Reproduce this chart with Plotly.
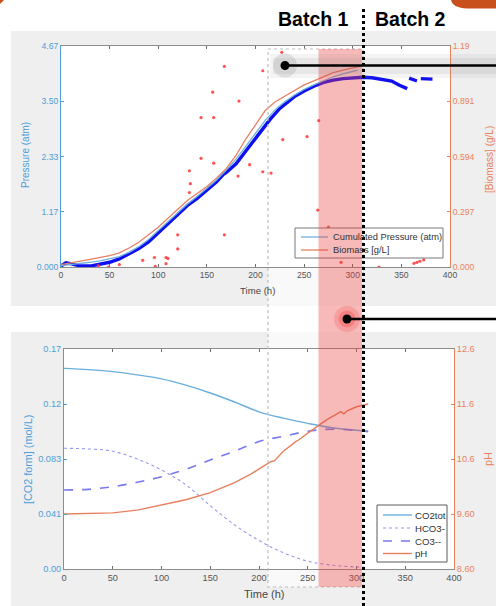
import plotly.graph_objects as go

W, H = 496, 606
FONT = "Liberation Sans, Arial, sans-serif"

# ---------------- top panel data ----------------
press_h = [0, 5, 10, 20, 30, 40, 50, 60, 70, 80, 90, 100, 110, 120, 130, 140, 150, 160, 167, 170, 180, 190,
           200, 210, 215, 225, 240, 250, 260, 270, 280, 290, 300, 310, 320, 330, 340, 348, 356, 357,
           358, 362, 366, 368, 370, 376, 382]
press_atm = [0.02, 0.09, 0.07, 0.02, 0.02, 0.06, 0.10, 0.17, 0.27, 0.39, 0.53, 0.72, 0.90, 1.10, 1.30, 1.45,
             1.63, 1.80, 1.96, 2.00, 2.18, 2.45, 2.72, 2.98, 3.12, 3.35, 3.60, 3.72, 3.82, 3.90, 3.95, 3.98,
             4.00, 4.01, 4.00, 3.97, 3.93, 3.84, 3.77, None, 3.99, 3.96, 3.93, None, 3.98, 3.98, 3.97]

cum_h = [0, 10, 20, 30, 40, 50, 60, 70, 80, 90, 100, 110, 120, 130, 140, 150, 160, 170, 180, 190, 200,
         210, 220, 230, 240, 250, 260, 270, 280, 290, 300, 305]
cum_atm = [0.03, 0.05, 0.07, 0.10, 0.13, 0.17, 0.22, 0.31, 0.43, 0.58, 0.77, 0.95, 1.15, 1.33, 1.49, 1.67,
           1.84, 2.05, 2.28, 2.55, 2.83, 3.10, 3.32, 3.49, 3.63, 3.75, 3.85, 3.94, 4.02, 4.08, 4.13, 4.16]

biomass_h = [0, 10, 20, 30, 40, 50, 60, 70, 80, 90, 100, 110, 120, 130, 140, 150, 160, 170, 180, 190, 200,
             210, 220, 230, 240, 250, 260, 270, 280, 290, 300, 308]
biomass_gL = [0.013, 0.020, 0.031, 0.041, 0.051, 0.061, 0.076, 0.102, 0.133, 0.173, 0.214, 0.262, 0.311,
              0.357, 0.395, 0.433, 0.479, 0.530, 0.600, 0.688, 0.764, 0.841, 0.887, 0.917, 0.951, 0.979,
              1.001, 1.024, 1.045, 1.058, 1.070, 1.080]

dots_h = [38.5, 48.7, 60, 84, 96, 97, 108, 110, 108, 120, 120, 132, 133, 132, 144, 144, 156, 157, 157, 168,
          168, 183, 182, 194, 227, 207.5, 207.5, 216, 228, 253, 265, 264, 275, 288, 327, 363, 366, 369, 373]
dots_gL = [0.008, 0.0, 0.013, 0.036, 0.051, 0.003, 0.051, 0.046, 0.018, 0.173, 0.097, 0.517, 0.448, 0.400,
           0.803, 0.584, 0.940, 0.803, 0.558, 1.078, 0.173, 0.892, 0.489, 0.550, 1.154, 1.055, 0.512, 0.505,
           0.685, 0.701, 0.787, 0.306, 0.214, 0.025, 0.0, 0.020, 0.025, 0.031, 0.038]

top_x_ticks = [0, 50, 100, 150, 200, 250, 300, 350, 400]
top_left_ticks = [0, 1.1675, 2.335, 3.5025, 4.67]
top_left_text = ["0.000", "1.17", "2.33", "3.50", "4.67"]
top_right_ticks = [0, 0.297, 0.594, 0.891, 1.188]
top_right_text = ["0.000", "0.297", "0.594", "0.891", "1.19"]

# ---------------- bottom panel data ----------------
t_h = [0, 25, 50, 75, 100, 125, 150, 175, 200, 225, 250, 275, 300, 312]
co2tot = [0.1514, 0.1504, 0.1489, 0.1465, 0.1435, 0.1387, 0.1328, 0.1260, 0.1186, 0.1138, 0.1099, 0.1066,
          0.1047, 0.1041]
hco3 = [0.0911, 0.0906, 0.0889, 0.0830, 0.0747, 0.0635, 0.0478, 0.0332, 0.0215, 0.0122, 0.0059, 0.0029,
        0.0015, 0.0012]
co3 = [0.0596, 0.0601, 0.0621, 0.0654, 0.0696, 0.0752, 0.0822, 0.0889, 0.0962, 0.1001, 0.1040, 0.1055,
       0.1045, 0.1036]
ph_h = [0, 25, 50, 75, 100, 125, 150, 175, 192, 200, 212, 216, 225, 238, 241, 250, 260, 270, 281, 284, 287,
        290, 300, 312]
ph = [9.60, 9.605, 9.62, 9.67, 9.76, 9.86, 9.99, 10.17, 10.33, 10.42, 10.55, 10.57, 10.74, 10.92, 10.95,
      11.07, 11.19, 11.32, 11.43, 11.46, 11.42, 11.47, 11.55, 11.60]

bot_left_ticks = [0, 0.0415, 0.083, 0.1245, 0.166]
bot_left_text = ["0.00", "0.041", "0.083", "0.12", "0.17"]
bot_right_ticks = [8.6, 9.6, 10.6, 11.6, 12.6]
bot_right_text = ["8.60", "9.60", "10.6", "11.6", "12.6"]

# colours
BLUE_AX = "rgb(77,158,218)"
ORANGE_AX = "rgb(232,130,92)"
GREY_TXT = "rgb(85,85,85)"
C_PRESS = "rgb(15,15,240)"
C_CUM = "rgb(110,178,222)"
C_BIO = "rgb(230,128,98)"
C_DOT = "rgba(255,50,50,0.85)"
C_CO2 = "rgb(105,175,222)"
C_HCO3 = "rgb(150,150,245)"
C_CO3 = "rgb(120,120,240)"
C_PH = "rgb(232,128,95)"


def fx(x):
    return x / W


def fy(y):
    return 1 - y / H


fig = go.Figure()

# top traces
fig.add_trace(go.Scatter(x=press_h, y=press_atm, mode="lines", line=dict(color=C_PRESS, width=3.4),
                         xaxis="x", yaxis="y", connectgaps=False, showlegend=False))
fig.add_trace(go.Scatter(x=cum_h, y=cum_atm, mode="lines", line=dict(color=C_CUM, width=1.3),
                         xaxis="x", yaxis="y", showlegend=False, name="Cumulated Pressure (atm)"))
fig.add_trace(go.Scatter(x=biomass_h, y=biomass_gL, mode="lines", line=dict(color=C_BIO, width=1.3),
                         xaxis="x", yaxis="y2", showlegend=False, name="Biomass [g/L]"))
fig.add_trace(go.Scatter(x=dots_h, y=dots_gL, mode="markers", marker=dict(color=C_DOT, size=3.2),
                         xaxis="x", yaxis="y2", showlegend=False))

# bottom traces
fig.add_trace(go.Scatter(x=t_h, y=co2tot, mode="lines", line=dict(color=C_CO2, width=1.4, shape="spline"),
                         xaxis="x2", yaxis="y3", showlegend=False, name="CO2tot"))
fig.add_trace(go.Scatter(x=t_h, y=hco3, mode="lines",
                         line=dict(color=C_HCO3, width=1.1, dash="dot", shape="spline"),
                         xaxis="x2", yaxis="y3", showlegend=False, name="HCO3-"))
fig.add_trace(go.Scatter(x=t_h, y=co3, mode="lines",
                         line=dict(color=C_CO3, width=1.6, dash="dash", shape="spline"),
                         xaxis="x2", yaxis="y3", showlegend=False, name="CO3--"))
fig.add_trace(go.Scatter(x=ph_h, y=ph, mode="lines", line=dict(color=C_PH, width=1.4),
                         xaxis="x2", yaxis="y4", showlegend=False, name="pH"))

tickfont_top = dict(family=FONT, size=8.6)
tickfont_bot = dict(family=FONT, size=9.2)


def xax(domain, anchor, tf):
    return dict(domain=domain, anchor=anchor, range=[0, 400], tickvals=top_x_ticks,
                ticks="inside", ticklen=3, tickcolor="rgb(110,110,110)", showline=True,
                linecolor="rgb(140,140,140)", linewidth=1, mirror="ticks", showgrid=False,
                zeroline=False, tickfont=dict(color=GREY_TXT, **tf), fixedrange=True, automargin=False)


def yax(domain, anchor, rng, tv, tt, color, tf, side="left", overlaying=None):
    d = dict(domain=domain, anchor=anchor, range=rng, tickvals=tv, ticktext=tt, ticks="inside",
             ticklen=3, tickcolor=color, showline=True, linecolor=color, linewidth=1, showgrid=False,
             zeroline=False, tickfont=dict(color=color, **tf), side=side, fixedrange=True,
             automargin=False)
    if overlaying:
        d["overlaying"] = overlaying
    return d


top_xdom = [fx(61), fx(450)]
top_ydom = [fy(267), fy(46)]
bot_xdom = [fx(64), fx(454)]
bot_ydom = [fy(569), fy(349)]

fig.update_layout(
    template="none",
    width=W, height=H, autosize=False,
    margin=dict(l=0, r=0, t=0, b=0, pad=0, autoexpand=False),
    paper_bgcolor="white", plot_bgcolor="rgba(0,0,0,0)",
    font=dict(family=FONT),
    xaxis=xax(top_xdom, "y", tickfont_top),
    yaxis=yax(top_ydom, "x", [0, 4.67], top_left_ticks, top_left_text, BLUE_AX, tickfont_top),
    yaxis2=yax(top_ydom, "x", [0, 1.188], top_right_ticks, top_right_text, ORANGE_AX, tickfont_top,
               side="right", overlaying="y"),
    xaxis2=xax(bot_xdom, "y3", tickfont_bot),
    yaxis3=yax(bot_ydom, "x2", [0, 0.166], bot_left_ticks, bot_left_text, BLUE_AX, tickfont_bot),
    yaxis4=yax(bot_ydom, "x2", [8.6, 12.6], bot_right_ticks, bot_right_text, ORANGE_AX, tickfont_bot,
               side="right", overlaying="y3"),
)


def rect(x0, y0, x1, y1, layer="below", **kw):
    return dict(type="rect", xref="paper", yref="paper", x0=fx(x0), x1=fx(x1), y0=fy(y0), y1=fy(y1),
                layer=layer, **kw)


def circ(cx, cy, r, layer="above", **kw):
    return dict(type="circle", xref="paper", yref="paper", x0=fx(cx - r), x1=fx(cx + r),
                y0=fy(cy + r), y1=fy(cy - r), layer=layer, **kw)


def seg(x0, y0, x1, y1, color, width, dash="solid", layer="above"):
    return dict(type="line", xref="paper", yref="paper", x0=fx(x0), x1=fx(x1), y0=fy(y0), y1=fy(y1),
                line=dict(color=color, width=width, dash=dash), layer=layer)


NOLINE = dict(width=0)
shapes = [
    # panel backgrounds
    rect(11, 31, 496, 306, fillcolor="rgb(239,239,239)", line=NOLINE),
    rect(11, 332, 496, 606, fillcolor="rgb(239,239,239)", line=NOLINE),
    rect(61, 46, 450, 267, fillcolor="white", line=NOLINE),
    rect(64, 349, 454, 569, fillcolor="white", line=NOLINE),
    # light window fill (under the data)
    rect(268, 49, 363, 587, fillcolor="rgba(255,255,255,0.6)", line=NOLINE),
    # top legend
    rect(295, 228, 443, 258, layer="above", fillcolor="white", line=dict(color="rgb(120,120,120)", width=1)),
    seg(301, 237, 328, 237, C_CUM, 1.3),
    seg(301, 250, 328, 250, C_BIO, 1.3),
    # bottom legend
    rect(377, 505, 447, 562, layer="above", fillcolor="white", line=dict(color="rgb(90,90,90)", width=1)),
    seg(383, 515, 412, 515, C_CO2, 1.4),
    seg(383, 528, 412, 528, C_HCO3, 1.1, "dot"),
    seg(383, 541, 412, 541, C_CO3, 1.6, "dash"),
    seg(383, 553.5, 412, 553.5, C_PH, 1.4),
    # highlighted windows
    rect(268, 49, 363, 587, layer="above", fillcolor="rgba(0,0,0,0)",
         line=dict(color="rgb(190,190,190)", width=1.2, dash="dot")),
    rect(318.5, 49, 362, 587, layer="above", fillcolor="rgba(236,60,60,0.36)", line=NOLINE),
    # callout 1 glow
    rect(270, 54, 496, 78, layer="above", fillcolor="rgba(130,130,130,0.09)", line=NOLINE),
    rect(273, 58, 496, 74, layer="above", fillcolor="rgba(130,130,130,0.11)", line=NOLINE),
    circ(285, 65.5, 12, fillcolor="rgba(120,120,120,0.18)", line=NOLINE),
    seg(285, 65.5, 496, 65.5, "black", 2.6),
    circ(285, 65.5, 4.5, fillcolor="black", line=NOLINE),
    # callout 2 glow
    circ(347, 319, 13, fillcolor="rgba(245,70,70,0.22)", line=NOLINE),
    circ(347, 319, 8.5, fillcolor="rgba(245,70,70,0.35)", line=NOLINE),
    seg(347, 319, 496, 319, "black", 2.6),
    circ(347, 319, 4.5, fillcolor="black", line=NOLINE),
    # batch separator
    seg(363.5, 9, 363.5, 606, "black", 3, "dot"),
    # orange slide decorations
    dict(type="path", xref="paper", yref="paper", layer="above",
         path=f"M {fx(451)},{fy(0)} L {fx(496)},{fy(0)} L {fx(496)},{fy(8.5)} L {fx(467)},{fy(8.5)} "
              f"Q {fx(453)},{fy(8)} {fx(451)},{fy(0)} Z",
         fillcolor="rgb(200,80,28)", line=NOLINE),
    dict(type="path", xref="paper", yref="paper", layer="above",
         path=f"M {fx(0)},{fy(0)} L {fx(4)},{fy(0)} Q {fx(2)},{fy(2)} {fx(0)},{fy(4)} Z",
         fillcolor="rgb(200,80,28)", line=NOLINE),
]
fig.update_layout(shapes=shapes)


def ann(text, x, y, size, color, angle=0, xanchor="center", bold=False):
    return dict(text=f"<b>{text}</b>" if bold else text, xref="paper", yref="paper", x=fx(x), y=fy(y),
                xanchor=xanchor, yanchor="middle", showarrow=False, textangle=angle,
                font=dict(family=FONT, size=size, color=color))


annotations = [
    ann("Batch 1", 313, 19, 19.5, "black", bold=True),
    ann("Batch 2", 410.5, 19, 19.5, "black", bold=True),
    ann("Pressure (atm)", 26, 155, 10, BLUE_AX, angle=-90),
    ann("[Biomass] (g/L)", 490, 160, 10, ORANGE_AX, angle=-90),
    ann("Time (h)", 257, 290, 9.6, "rgb(70,70,70)"),
    ann("[CO2 form] (mol/L)", 28, 460, 10.8, BLUE_AX, angle=-90),
    ann("pH", 488, 459, 10.8, ORANGE_AX, angle=-90),
    ann("Time (h)", 264, 594, 11, "rgb(70,70,70)"),
    ann("Cumulated Pressure (atm)", 331, 237, 9.3, "rgb(50,50,50)", xanchor="left"),
    ann("Biomass [g/L]", 331, 250, 9.3, "rgb(50,50,50)", xanchor="left"),
    ann("CO2tot", 413, 515, 9.6, "rgb(50,50,50)", xanchor="left"),
    ann("HCO3-", 413, 528, 9.6, "rgb(50,50,50)", xanchor="left"),
    ann("CO3--", 413, 541, 9.6, "rgb(50,50,50)", xanchor="left"),
    ann("pH", 413, 553.5, 9.6, "rgb(50,50,50)", xanchor="left"),
]
fig.update_layout(annotations=annotations)

fig.write_html(
    "out.html",
    config={"displayModeBar": False, "staticPlot": True},
    post_script="document.body.style.margin='0px';document.body.style.overflow='hidden';",
)
